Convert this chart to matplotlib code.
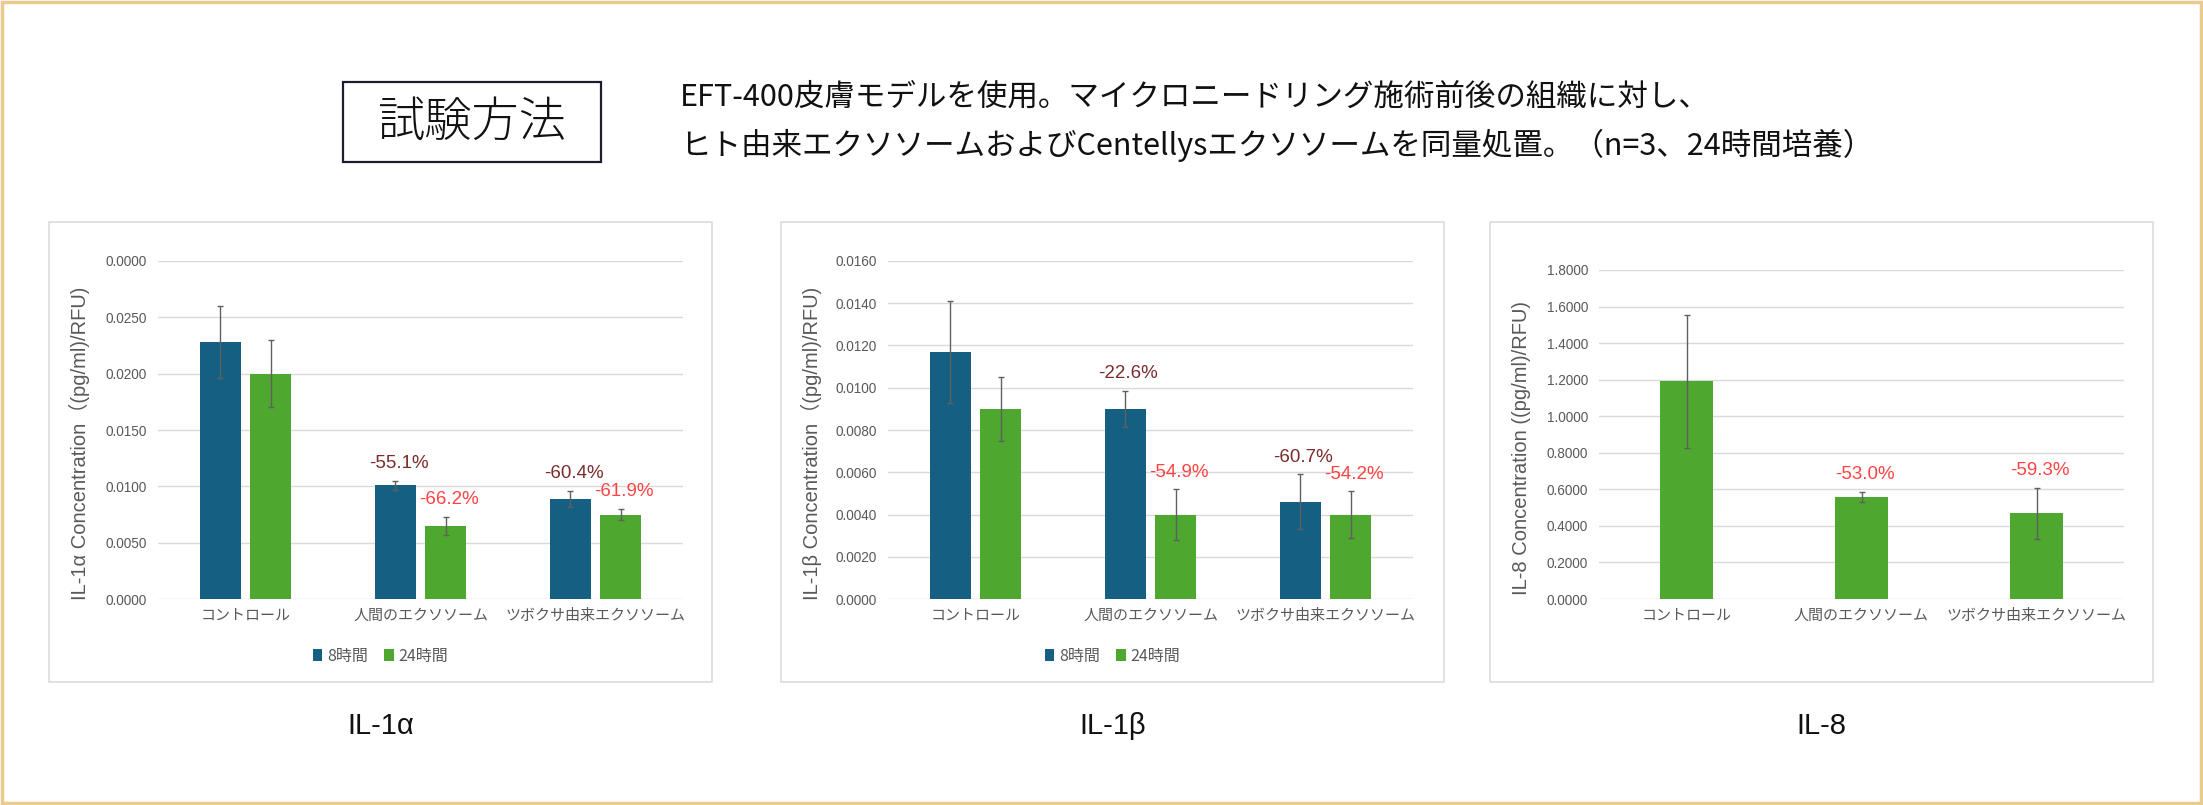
import matplotlib
matplotlib.use("Agg")
import matplotlib.pyplot as plt
from matplotlib.patches import Rectangle
import numpy as np

# データ
categories = ["コントロール", "人間のエクソソーム", "ツボクサ由来エクソソーム"]
series = ["8時間", "24時間"]

il1a_8h = [0.0228, 0.0101, 0.0089]
il1a_8h_err = [0.0032, 0.0004, 0.0007]
il1a_24h = [0.0200, 0.0065, 0.0075]
il1a_24h_err = [0.0030, 0.0008, 0.0005]
il1a_ticks = [0.0, 0.005, 0.010, 0.015, 0.020, 0.025, 0.030]
il1a_ticklabels = ["0.0000", "0.0050", "0.0100", "0.0150", "0.0200", "0.0250", "0.0000"]
il1a_pct_8h = ["", "-55.1%", "-60.4%"]
il1a_pct_24h = ["", "-66.2%", "-61.9%"]

il1b_8h = [0.0117, 0.0090, 0.0046]
il1b_8h_err = [0.0024, 0.00085, 0.0013]
il1b_24h = [0.0090, 0.0040, 0.0040]
il1b_24h_err = [0.0015, 0.0012, 0.0011]
il1b_ticks = [0.0, 0.002, 0.004, 0.006, 0.008, 0.010, 0.012, 0.014, 0.016]
il1b_pct_8h = ["", "-22.6%", "-60.7%"]
il1b_pct_24h = ["", "-54.9%", "-54.2%"]

il8_24h = [1.19, 0.56, 0.47]
il8_24h_err = [0.366, 0.027, 0.14]
il8_ticks = [0.0, 0.2, 0.4, 0.6, 0.8, 1.0, 1.2, 1.4, 1.6, 1.8]
il8_pct = ["", "-53.0%", "-59.3%"]

header1 = "EFT-400皮膚モデルを使用。マイクロニードリング施術前後の組織に対し、"
header2 = "ヒト由来エクソソームおよびCentellysエクソソームを同量処置。（n=3、24時間培養）"

BLUE = "#156082"
GREEN = "#4EA72E"
DARKRED = "#7B2C2C"
RED = "#FF4343"
GREY = "#595959"
JP = ["Noto Sans CJK JP", "DejaVu Sans"]
LAT = ["Liberation Sans", "Noto Sans CJK JP", "DejaVu Sans"]

W, H = 2203, 805
fig = plt.figure(figsize=(W / 100, H / 100), dpi=100)
fig.patch.set_facecolor("white")


def px_axes(x0, y0, x1, y1):
    return fig.add_axes([x0 / W, 1 - y1 / H, (x1 - x0) / W, (y1 - y0) / H])


def px_rect(x0, y0, x1, y1, **kw):
    fig.patches.append(Rectangle((x0 / W, 1 - y1 / H), (x1 - x0) / W, (y1 - y0) / H,
                                 transform=fig.transFigure, fill=False, **kw))


# 外枠
px_rect(2, 2, W - 2, H - 2, edgecolor="#E9CB8E", linewidth=2.5)

# 見出し
px_rect(343, 82, 601, 162, edgecolor="#1C1C2C", linewidth=1.6)
fig.text(472 / W, 1 - 122 / H, "試験方法", family=JP, fontsize=34, weight=300,
         ha="center", va="center", color="#111111")
fig.text(680 / W, 1 - 97.5 / H, header1, family=JP, fontsize=22, ha="left", va="center", color="#111111")
fig.text(680 / W, 1 - 145 / H, header2, family=JP, fontsize=22, ha="left", va="center", color="#111111")

panels = [(49, 712), (781, 1444), (1490, 2153)]
for x0, x1 in panels:
    px_rect(x0, 222, x1, 682, edgecolor="#DCDCDC", linewidth=1.2)


def style(ax, ticks, ticklabels, ylabel, label_x):
    ax.set_xlim(-0.5, 2.5)
    ax.set_ylim(ticks[0], ticks[-1])
    ax.set_yticks(ticks)
    ax.set_yticklabels(ticklabels, family=LAT, fontsize=9.8, color=GREY)
    ax.set_xticks(range(len(categories)))
    ax.set_xticklabels(categories, family=JP, fontsize=10.8, color=GREY)
    ax.tick_params(axis="both", length=0)
    ax.tick_params(axis="y", pad=8)
    ax.tick_params(axis="x", pad=7)
    for s in ax.spines.values():
        s.set_visible(False)
    ax.yaxis.grid(True, color="#D9D9D9", linewidth=1.0)
    ax.set_axisbelow(True)
    ax.set_ylabel(ylabel, family=LAT, fontsize=14.5, color=GREY, va="center")
    ax.yaxis.set_label_coords(label_x, 0.46)


def pct_labels(ax, xs, vals, errs, texts, color):
    for x, v, e, t in zip(xs, vals, errs, texts):
        if t:
            ax.annotate(t, (x, v + e), xytext=(3, 17), textcoords="offset pixels",
                        ha="center", va="center", family=LAT, fontsize=13.5, color=color)


ekw = dict(ecolor="#606060", elinewidth=1.0, capsize=2.5, capthick=1.0)
w = 0.229
off = 0.143
x = np.arange(len(categories))

# IL-1α
ax1 = px_axes(158, 261, 683, 599)
ax1.bar(x - off, il1a_8h, w, yerr=il1a_8h_err, color=BLUE, error_kw=ekw, label=series[0])
ax1.bar(x + off, il1a_24h, w, yerr=il1a_24h_err, color=GREEN, error_kw=ekw, label=series[1])
style(ax1, il1a_ticks, il1a_ticklabels, "IL-1α Concentration（(pg/ml)/RFU)", -0.149)
pct_labels(ax1, x - off, il1a_8h, il1a_8h_err, il1a_pct_8h, DARKRED)
pct_labels(ax1, x + off, il1a_24h, il1a_24h_err, il1a_pct_24h, RED)

# IL-1β
ax2 = px_axes(888, 261, 1413, 599)
ax2.bar(x - off, il1b_8h, w, yerr=il1b_8h_err, color=BLUE, error_kw=ekw, label=series[0])
ax2.bar(x + off, il1b_24h, w, yerr=il1b_24h_err, color=GREEN, error_kw=ekw, label=series[1])
style(ax2, il1b_ticks, ["%.4f" % t for t in il1b_ticks], "IL-1β Concentration（(pg/ml)/RFU)", -0.145)
pct_labels(ax2, x - off, il1b_8h, il1b_8h_err, il1b_pct_8h, DARKRED)
pct_labels(ax2, x + off, il1b_24h, il1b_24h_err, il1b_pct_24h, RED)

# IL-8
ax3 = px_axes(1599, 270, 2124, 599)
ax3.bar(x, il8_24h, 0.3, yerr=il8_24h_err, color=GREEN, error_kw=ekw)
style(ax3, il8_ticks, ["%.4f" % t for t in il8_ticks], "IL-8 Concentration ((pg/ml)/RFU)", -0.147)
pct_labels(ax3, x, il8_24h, il8_24h_err, il8_pct, RED)

# 凡例
for ax, (x0, x1) in zip([ax1, ax2], panels[:2]):
    ax.legend(loc="center", bbox_to_anchor=((x0 + x1) / 2 / W, 1 - 656 / H),
              bbox_transform=fig.transFigure, ncol=2, frameon=False,
              prop={"family": JP, "size": 11.5}, labelcolor=GREY,
              handlelength=0.6, handleheight=0.7, handletextpad=0.3, columnspacing=1.0)

# パネルタイトル
for (x0, x1), t in zip(panels, ["IL-1α", "IL-1β", "IL-8"]):
    fig.text((x0 + x1) / 2 / W, 1 - 726 / H, t, family=LAT, fontsize=21, ha="center", va="center", color="#111111")

fig.savefig("out.png", dpi=100)
